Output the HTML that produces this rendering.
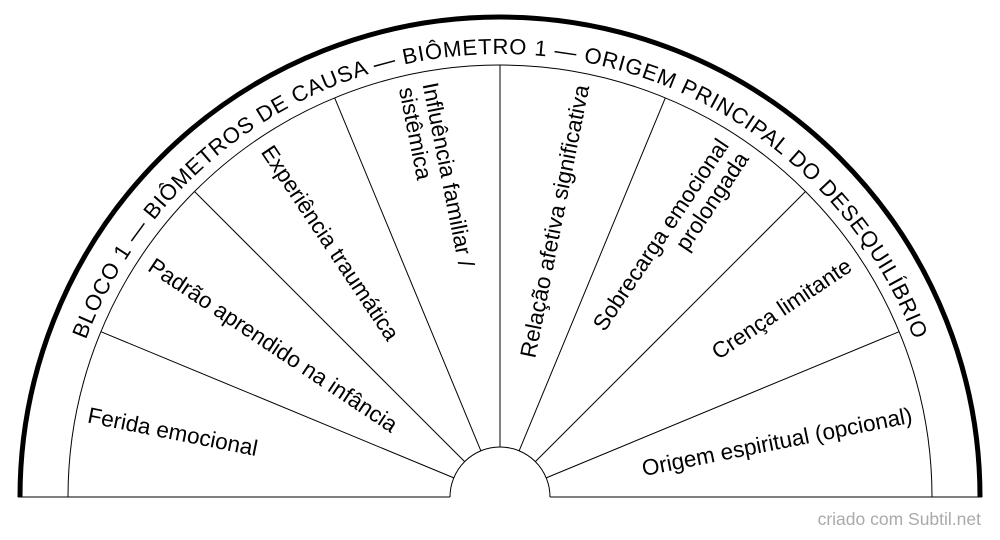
<!DOCTYPE html>
<html><head><meta charset="utf-8"><style>
html,body{margin:0;padding:0;background:#fff;}
svg{display:block;}
text{font-family:"Liberation Sans",Arial,sans-serif;fill:#000;}
</style></head><body>
<svg width="1000" height="540" viewBox="0 0 1000 540" xmlns="http://www.w3.org/2000/svg">
<defs>
<path id="arc" d="M 57 497 A 443 443 0 0 1 943 497"/>
</defs>
<path d="M 20 497 A 480 480 0 0 1 980 497" fill="none" stroke="#000" stroke-width="5"/>
<path d="M 68 497 A 432 432 0 0 1 932 497" fill="none" stroke="#000" stroke-width="1"/>
<line x1="18" y1="497" x2="450" y2="497" stroke="#000" stroke-width="1"/>
<line x1="550" y1="497" x2="982" y2="497" stroke="#000" stroke-width="1"/>
<path d="M 450 497 A 50 50 0 0 1 550 497" fill="none" stroke="#000" stroke-width="1"/>
<g transform="translate(500,497)" stroke="#000" stroke-width="1">
<line x1="-50" y1="0" x2="-432" y2="0" transform="rotate(22.5)"/>
<line x1="-50" y1="0" x2="-432" y2="0" transform="rotate(45)"/>
<line x1="-50" y1="0" x2="-432" y2="0" transform="rotate(67.5)"/>
<line x1="-50" y1="0" x2="-432" y2="0" transform="rotate(90)"/>
<line x1="-50" y1="0" x2="-432" y2="0" transform="rotate(112.5)"/>
<line x1="-50" y1="0" x2="-432" y2="0" transform="rotate(135)"/>
<line x1="-50" y1="0" x2="-432" y2="0" transform="rotate(157.5)"/>
</g>
<text font-size="22"><textPath href="#arc" startOffset="50%" text-anchor="middle" textLength="1070" lengthAdjust="spacing">BLOCO 1 — BIÔMETROS DE CAUSA — BIÔMETRO 1 — ORIGEM PRINCIPAL DO DESEQUILÍBRIO</textPath></text>
<g font-size="22.5" dominant-baseline="central">
<g transform="translate(500,497) rotate(11.25) translate(-420,0)"><text x="0" y="0">Ferida emocional</text></g>
<g transform="translate(500,497) rotate(33.75) translate(-420,0)"><text x="0" y="0">Padrão aprendido na infância</text></g>
<g transform="translate(500,497) rotate(56.25) translate(-420,0)"><text x="0" y="0">Experiência traumática</text></g>
<g transform="translate(500,497) rotate(78.75) translate(-420,0)"><text x="0" y="-12">Influência familiar /</text><text x="0" y="12">sistêmica</text></g>
</g>
<g font-size="22.5" dominant-baseline="central" text-anchor="end">
<g transform="translate(500,497) rotate(-78.75) translate(420,0)"><text x="0" y="0">Relação afetiva significativa</text></g>
<g transform="translate(500,497) rotate(-56.25) translate(420,0)"><text x="0" y="-12">Sobrecarga emocional</text><text x="0" y="12">prolongada</text></g>
<g transform="translate(500,497) rotate(-33.75) translate(420,0)"><text x="0" y="0">Crença limitante</text></g>
<g transform="translate(500,497) rotate(-11.25) translate(420,0)"><text x="0" y="0">Origem espiritual (opcional)</text></g>
</g>
<text x="981" y="525" font-size="17.5" text-anchor="end" style="fill:#aaa">criado com Subtil.net</text>
</svg>
</body></html>
